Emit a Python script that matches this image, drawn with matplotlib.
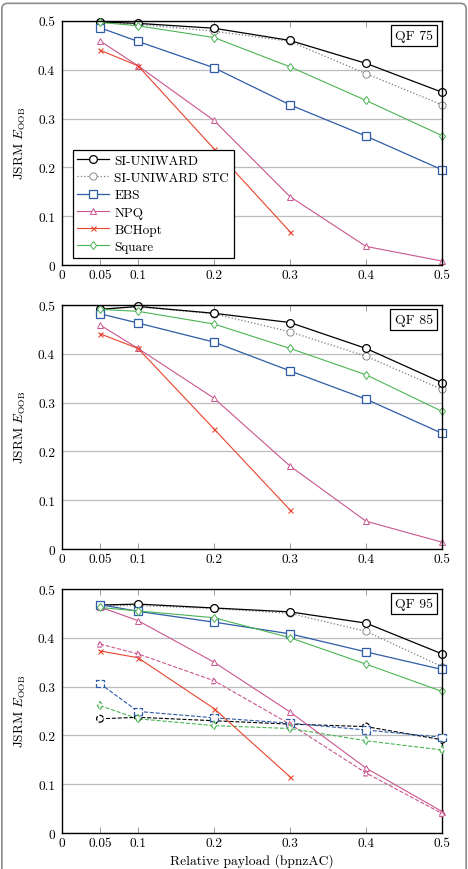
import numpy as np
import matplotlib.pyplot as plt
from matplotlib.patches import FancyBboxPatch

plt.rcParams['font.family'] = ['cmr10', 'DejaVu Serif']
plt.rcParams['mathtext.fontset'] = 'cm'
plt.rcParams['axes.formatter.use_mathtext'] = True

payload = [0.05, 0.1, 0.2, 0.3, 0.4, 0.5]
xticks = [0, 0.05, 0.1, 0.2, 0.3, 0.4, 0.5]
xtick_labels = ['0', '0.05', '0.1', '0.2', '0.3', '0.4', '0.5']
yticks = [0, 0.1, 0.2, 0.3, 0.4, 0.5]
ytick_labels = ['0', '0.1', '0.2', '0.3', '0.4', '0.5']

quality = ['QF 75', 'QF 85', 'QF 95']
methods = ['SI-UNIWARD', 'SI-UNIWARD STC', 'EBS', 'NPQ', 'BCHopt', 'Square']

# solid series, one list per quality factor
si_uniward = [
    [0.498, 0.495, 0.485, 0.460, 0.413, 0.354],
    [0.491, 0.497, 0.483, 0.464, 0.411, 0.341],
    [0.467, 0.469, 0.461, 0.453, 0.430, 0.367],
]
si_uniward_stc = [
    [0.497, 0.493, 0.479, 0.458, 0.392, 0.328],
    [0.492, 0.496, 0.482, 0.445, 0.395, 0.327],
    [0.466, 0.466, 0.460, 0.450, 0.413, 0.341],
]
ebs = [
    [0.486, 0.458, 0.404, 0.328, 0.264, 0.195],
    [0.482, 0.463, 0.424, 0.365, 0.307, 0.237],
    [0.468, 0.454, 0.432, 0.408, 0.371, 0.335],
]
npq = [
    [0.459, 0.408, 0.296, 0.140, 0.038, 0.008],
    [0.459, 0.411, 0.309, 0.170, 0.057, 0.014],
    [0.463, 0.435, 0.350, 0.248, 0.133, 0.044],
]
bchopt_payload = [0.05, 0.1, 0.2, 0.3]
bchopt = [
    [0.440, 0.408, 0.238, 0.068],
    [0.441, 0.411, 0.246, 0.080],
    [0.373, 0.359, 0.255, 0.115],
]
square = [
    [0.497, 0.490, 0.466, 0.406, 0.337, 0.265],
    [0.491, 0.487, 0.461, 0.411, 0.357, 0.282],
    [0.462, 0.455, 0.441, 0.400, 0.346, 0.290],
]

# dashed series, only drawn for QF 95
qf95_dashed_si = [0.234, 0.237, 0.230, 0.223, 0.218, 0.191]
qf95_dashed_ebs = [0.306, 0.249, 0.236, 0.225, 0.211, 0.196]
qf95_dashed_npq = [0.387, 0.367, 0.312, 0.223, 0.123, 0.040]
qf95_dashed_square = [0.261, 0.234, 0.220, 0.214, 0.189, 0.170]

BLACK = 'black'
GREY = '#7a7a7a'
BLUE = '#2f5ca8'
MAGENTA = '#c9568f'
RED = '#e8432c'
GREEN = '#4bb454'

FS = 9.6

fig = plt.figure(figsize=(4.68, 8.70), dpi=100)

# grey rounded frame around the whole figure (bottom edge is cut off)
frame = FancyBboxPatch((0.004, -0.1), 0.992, 1.095,
                       boxstyle='round,pad=0,rounding_size=0.012',
                       transform=fig.transFigure, fill=False,
                       edgecolor='#8c8c8c', lw=1.2, mutation_aspect=468 / 870)
fig.patches.append(frame)

bottoms = [0.6943, 0.3678, 0.0414]


def open_marker(ax, x, y, marker, color, size, ls='-'):
    ax.scatter(x, y, s=size, marker=marker, facecolor='white', edgecolor=color,
               linewidths=0.9, linestyle=ls, zorder=4, clip_on=False)


for i, bottom in enumerate(bottoms):
    ax = fig.add_axes([0.1325, bottom, 0.812, 0.2805])
    ax.set_xlim(0, 0.5)
    ax.set_ylim(0, 0.5)

    if i == 2:
        ax.plot(payload, qf95_dashed_si, '--', color=BLACK, lw=0.8, zorder=2)
        open_marker(ax, payload, qf95_dashed_si, 'o', BLACK, 24, '--')
        ax.plot(payload, qf95_dashed_ebs, '--', color=BLUE, lw=0.8, zorder=2)
        open_marker(ax, payload, qf95_dashed_ebs, 's', BLUE, 28, '--')
        ax.plot(payload, qf95_dashed_npq, '--', color=MAGENTA, lw=0.8, zorder=2)
        open_marker(ax, payload, qf95_dashed_npq, '^', MAGENTA, 18, '--')
        ax.plot(payload, qf95_dashed_square, '--', color=GREEN, lw=0.8, zorder=2)
        open_marker(ax, payload, qf95_dashed_square, 'd', GREEN, 18, '--')

    ax.plot(payload, si_uniward_stc[i], ':', color=GREY, lw=0.9, zorder=3,
            marker='o', ms=5.2, mfc='white', mec=GREY, mew=0.6,
            label=methods[1], clip_on=False)
    ax.plot(payload, si_uniward[i], '-', color=BLACK, lw=0.9, zorder=3,
            marker='o', ms=5.6, mfc='white', mec=BLACK, mew=0.9,
            label=methods[0], clip_on=False)
    ax.plot(payload, ebs[i], '-', color=BLUE, lw=0.9, zorder=3,
            marker='s', ms=5.6, mfc='white', mec=BLUE, mew=0.9,
            label=methods[2], clip_on=False)
    ax.plot(payload, npq[i], '-', color=MAGENTA, lw=0.8, zorder=3,
            marker='^', ms=4.4, mfc='white', mec=MAGENTA, mew=0.7,
            label=methods[3], clip_on=False)
    ax.plot(bchopt_payload, bchopt[i], '-', color=RED, lw=0.8, zorder=3,
            marker='x', ms=3.6, mec=RED, mew=0.8,
            label=methods[4], clip_on=False)
    ax.plot(payload, square[i], '-', color=GREEN, lw=0.8, zorder=3,
            marker='d', ms=4.4, mfc='white', mec=GREEN, mew=0.7,
            label=methods[5], clip_on=False)

    ax.set_xticks(xticks)
    ax.set_xticklabels(xtick_labels)
    ax.set_yticks(yticks)
    ax.set_yticklabels(ytick_labels)
    ax.tick_params(axis='x', direction='in', length=4, width=0.6, color='#888888',
                   top=True, labelsize=FS, pad=3)
    ax.tick_params(axis='y', length=0, labelsize=FS, pad=5)
    ax.yaxis.grid(True, color='#bdbdbd', lw=0.9)
    ax.set_axisbelow(True)
    for sp in ax.spines.values():
        sp.set_linewidth(1.0)
        sp.set_zorder(3.5)

    ax.set_ylabel(r'JSRM $E_{\mathrm{OOB}}$', fontsize=FS, labelpad=7)
    ax.text(0.976, 0.94, quality[i], transform=ax.transAxes, ha='right',
            va='center', fontsize=FS + 0.3, zorder=6,
            bbox=dict(boxstyle='square,pad=0.32', fc='white', ec='black', lw=0.9))

    if i == 0:
        handles, labels = ax.get_legend_handles_labels()
        order = [labels.index(m) for m in methods]
        leg = ax.legend([handles[k] for k in order], [labels[k] for k in order],
                        loc='lower left', bbox_to_anchor=(0.028, 0.03),
                        fontsize=9.5, frameon=True, fancybox=False,
                        framealpha=1, edgecolor='black', borderpad=0.35,
                        labelspacing=0.38, handlelength=2.4, handletextpad=0.4,
                        borderaxespad=0)
        leg.get_frame().set_linewidth(0.9)
        leg.set_zorder(7)

    if i == 2:
        ax.set_xlabel('Relative payload (bpnzAC)', fontsize=9.8, labelpad=3)

fig.savefig('out.png', dpi=100)
